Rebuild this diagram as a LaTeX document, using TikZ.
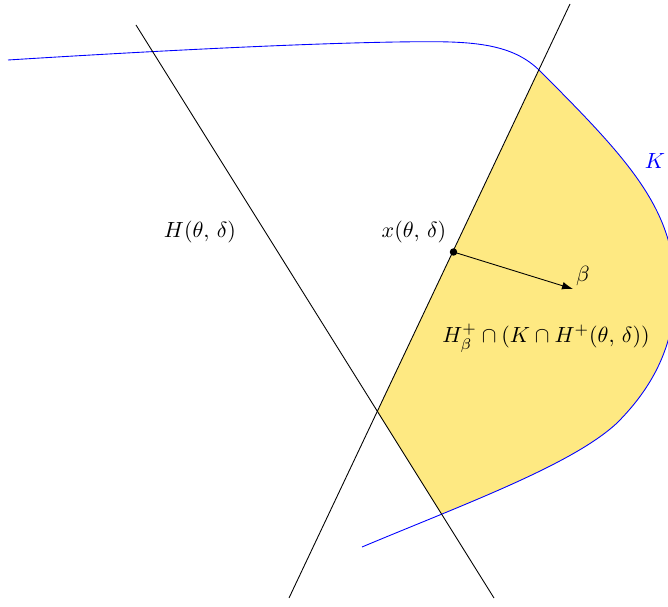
\documentclass[tikz,border=0pt]{standalone}
\usetikzlibrary{arrows.meta}
\definecolor{fillyellow}{RGB}{254,233,130}
\begin{document}
\begin{tikzpicture}[x=0.016cm,y=-0.016cm,
  lbl/.style={inner sep=0pt},
  kcurve/.style={blue,line width=0.4pt},
  hline/.style={black,line width=0.4pt}]
\useasboundingbox (0,0) rectangle (668,607);
\clip (0,0) rectangle (668,607);
% coordinates
\coordinate (L1a) at (136,25);
\coordinate (L1b) at (494,598);
\coordinate (L2a) at (570,4);
\coordinate (L2b) at (289,598);
\def\Kpath{(8,60) .. controls (200,48) and (350,41.7) .. (430,41.7)
  .. controls (480,41.7) and (515,46) .. (540,71)
  .. controls (630,161) and (675,210) .. (675,290)
  .. controls (675,340) and (657,383) .. (617,423)
  .. controls (572,465) and (462,505) .. (362,547)}
% fill
\begin{scope}
  \clip (596,-50) -- (377.3,411.3) -- (558,700) -- (900,700) -- (900,-50) -- cycle;
  \fill[fillyellow] \Kpath -- cycle;
\end{scope}
\draw[kcurve] \Kpath;
\draw[hline] (L1a) -- (L1b);
\draw[hline] (L2a) -- (L2b);
% point and arrow
\coordinate (xp) at (453.5,252);
\coordinate (bt) at (573,289);
\draw[-{Latex[length=5pt,width=3.5pt]},line width=0.4pt] (xp) -- (bt);
\fill (xp) circle (1.7pt);
% labels
\node[lbl] (hl) at (200,232) {$H(\theta,\,\delta)$};
\node[lbl] (xl) at (414,232) {$x(\theta,\,\delta)$};
\node[lbl] (bl) at (583,276) {$\beta$};
\node[lbl] (rl) at (546,338) {$H_\beta^+\cap(K\cap H^+(\theta,\,\delta))$};
\node[lbl,text=blue] (kl) at (655,161) {$K$};
\end{tikzpicture}
\end{document}
